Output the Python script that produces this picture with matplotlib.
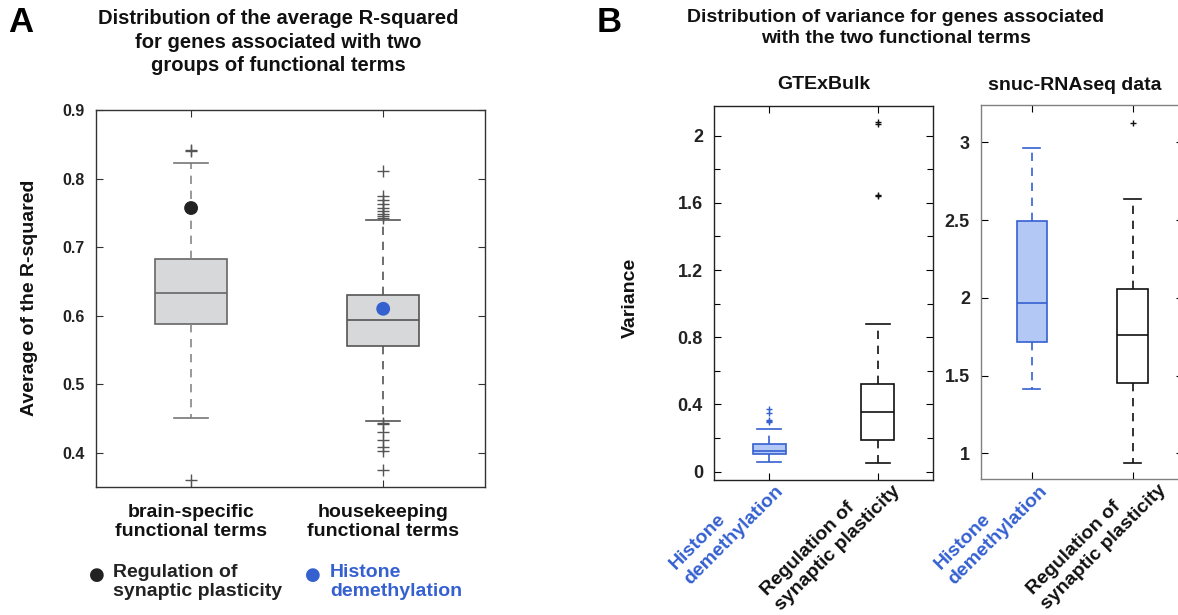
import numpy as np
import matplotlib
matplotlib.use("Agg")
import matplotlib.pyplot as plt
from matplotlib.ticker import MultipleLocator
from matplotlib.transforms import ScaledTranslation

plt.rcParams['font.family'] = ['Liberation Sans', 'DejaVu Sans']
plt.rcParams['font.weight'] = 'bold'

BLUE = '#3560d0'
BLUE_FILL = '#b4c8f6'
DARK = '#222222'

# ---- panel A data (average R-squared) ----
a_labels = ['brain-specific\nfunctional terms', 'housekeeping\nfunctional terms']
a_q1 = [0.588, 0.556]
a_med = [0.633, 0.593]
a_q3 = [0.683, 0.630]
a_lo = [0.451, 0.447]
a_hi = [0.822, 0.739]
a_fliers = [
    [0.842, 0.840, 0.360],
    [0.811, 0.774, 0.768, 0.763, 0.757, 0.752, 0.748, 0.745, 0.742,
     0.444, 0.442, 0.430, 0.419, 0.408, 0.403, 0.375],
]
a_points = [0.757, 0.610]          # highlighted terms
a_point_names = ['Regulation of\nsynaptic plasticity', 'Histone\ndemethylation']

# ---- panel B data (variance) ----
b_labels = ['Histone\ndemethylation', 'Regulation of\nsynaptic plasticity']
gtex_q1 = [0.104, 0.187]
gtex_med = [0.125, 0.357]
gtex_q3 = [0.167, 0.522]
gtex_lo = [0.060, 0.050]
gtex_hi = [0.256, 0.881]
gtex_fliers = [[0.370, 0.350, 0.310, 0.300, 0.295], [2.08, 2.07, 1.65, 1.64]]

snuc_q1 = [1.716, 1.450]
snuc_med = [1.969, 1.759]
snuc_q3 = [2.496, 2.059]
snuc_lo = [1.412, 0.940]
snuc_hi = [2.963, 2.633]
snuc_fliers = [[], [3.126]]


def stats(q1, med, q3, lo, hi, fl):
    return [dict(q1=q1[i], med=med[i], q3=q3[i], whislo=lo[i], whishi=hi[i],
                 fliers=fl[i]) for i in range(len(q1))]


def style_box(res, colors, fills, lw=1.2):
    for i, b in enumerate(res['boxes']):
        b.set_facecolor(fills[i]); b.set_edgecolor(colors[i]); b.set_linewidth(lw)
    for i, m in enumerate(res['medians']):
        m.set_color(colors[i]); m.set_linewidth(lw)
    for i, w in enumerate(res['whiskers']):
        w.set_color(colors[i // 2]); w.set_linestyle((0, (5, 4))); w.set_linewidth(lw)
    for i, c in enumerate(res['caps']):
        c.set_color(colors[i // 2]); c.set_linewidth(lw)


fmt = plt.FuncFormatter(lambda v, p: f'{v:g}')

fig = plt.figure(figsize=(11.78, 6.15), dpi=100)
W, H = 1178, 615


def axes_px(l, t, r, b):
    return fig.add_axes([l / W, 1 - b / H, (r - l) / W, (b - t) / H])


# ---------------- panel A ----------------
ax = axes_px(96, 110, 485, 487)
res = ax.bxp(stats(a_q1, a_med, a_q3, a_lo, a_hi, a_fliers), positions=[1, 2],
             widths=0.375, capwidths=0.18, patch_artist=True,
             flierprops=dict(marker='+', markersize=8, markeredgecolor='#555555',
                             markeredgewidth=1.0, linestyle='none'))
style_box(res, ['#666666', '#555555'], ['#d7d8da', '#d7d8da'])
res['whiskers'][0].set_color('#888888'); res['whiskers'][1].set_color('#888888')
res['caps'][0].set_color('#777777'); res['caps'][1].set_color('#777777')
ax.scatter([1, 2], a_points, s=80, c=[DARK, BLUE], zorder=5)
ax.set_xlim(0.505, 2.53)
ax.set_ylim(0.35, 0.9)
ax.yaxis.set_major_locator(MultipleLocator(0.1))
ax.yaxis.set_major_formatter(fmt)
ax.set_xticks([1, 2])
ax.set_xticklabels(a_labels, fontsize=14, fontweight='bold', color='#111111')
ax.tick_params(direction='in', top=True, right=True, length=5, width=0.8,
               color='#333333')
ax.tick_params(axis='y', labelsize=11.5, labelcolor='#222222', pad=8)
ax.tick_params(axis='x', pad=12)
for s in ax.spines.values():
    s.set_color('#333333'); s.set_linewidth(1.0)

fig.text(30 / W, 1 - 298 / H, 'Average of the R-squared', rotation=90,
         ha='center', va='center', fontsize=14, fontweight='bold', color='#111111')
fig.text(8 / W, 1 - 6 / H, 'A', fontsize=25, fontweight='bold', va='top', ha='left')
fig.text(278 / W, 1 - 9 / H,
         'Distribution of the average R-squared\nfor genes associated with two\ngroups of functional terms',
         ha='center', va='top', fontsize=14.5, fontweight='bold', linespacing=1.3,
         color='#111111')

# legend of highlighted terms
for x_dot, x_txt, col, name in [(97, 113, DARK, a_point_names[0]),
                                (313, 330, BLUE, a_point_names[1])]:
    fig.text(x_dot / W, 1 - 575 / H, '\u25CF', color=col, fontsize=13,
             ha='center', va='center', family=['DejaVu Sans'])
    fig.text(x_txt / W, 1 - 564 / H, name, color=col if col == BLUE else '#222222',
             fontsize=14, fontweight='bold', ha='left', va='top', linespacing=1.15)

# ---------------- panel B ----------------
fig.text(597 / W, 1 - 6 / H, 'B', fontsize=25, fontweight='bold', va='top', ha='left')
fig.text(896 / W, 1 - 9 / H,
         'Distribution of variance for genes associated\nwith the two functional terms',
         ha='center', va='top', fontsize=14, fontweight='bold', linespacing=1.3,
         color='#111111')
fig.text(630 / W, 1 - 298 / H, 'Variance', rotation=90, ha='center', va='center',
         fontsize=14, fontweight='bold', color='#111111')

box_cols = [BLUE, '#111111']
box_fill = [BLUE_FILL, 'white']

ax1 = axes_px(714, 106, 933, 480)
r1 = ax1.bxp(stats(gtex_q1, gtex_med, gtex_q3, gtex_lo, gtex_hi, gtex_fliers),
             positions=[1, 2], widths=0.30, capwidths=0.22, patch_artist=True,
             flierprops=dict(marker='+', markersize=5, linestyle='none'))
style_box(r1, box_cols, box_fill)
for i, f in enumerate(r1['fliers']):
    f.set_markeredgecolor(box_cols[i])
ax1.set_xlim(0.49, 2.51)
ax1.set_ylim(-0.05, 2.177)
ax1.yaxis.set_major_locator(MultipleLocator(0.4))
ax1.yaxis.set_minor_locator(MultipleLocator(0.2))
ax1.yaxis.set_major_formatter(fmt)
ax1.tick_params(axis='y', which='minor', direction='in', right=True, length=4,
                width=0.8)
ax1.set_title('GTExBulk', fontsize=14, fontweight='bold', pad=12, color='#111111')

ax2 = axes_px(981, 105, 1183, 479)
r2 = ax2.bxp(stats(snuc_q1, snuc_med, snuc_q3, snuc_lo, snuc_hi, snuc_fliers),
             positions=[1, 2], widths=0.30, capwidths=0.17, patch_artist=True,
             flierprops=dict(marker='+', markersize=5, linestyle='none'))
style_box(r2, box_cols, box_fill)
for i, f in enumerate(r2['fliers']):
    f.set_markeredgecolor(box_cols[i])
ax2.set_xlim(0.496, 2.5)
ax2.set_ylim(0.835, 3.24)
ax2.yaxis.set_major_locator(MultipleLocator(0.5))
ax2.yaxis.set_major_formatter(fmt)
fig.text(1075 / W, 1 - 86 / H, 'snuc-RNAseq data', ha='center', va='center',
         fontsize=14, fontweight='bold', color='#111111')

# per-label nudges (pixels right, up) to sit like the original rotated labels
nudges = {ax1: [(4, 6), (13, 6)], ax2: [(6, 5), (24, 6)]}
for a, spc in [(ax1, '#222222'), (ax2, '#808080')]:
    a.set_xticks([1, 2])
    a.set_xticklabels(b_labels, rotation=45, ha='right', va='center',
                      rotation_mode='anchor', multialignment='left',
                      fontsize=14, fontweight='bold', linespacing=1.25)
    a.tick_params(direction='in', top=True, right=True, length=5, width=0.8)
    a.tick_params(axis='y', labelsize=13, labelcolor='#222222', pad=8)
    a.tick_params(axis='x', pad=5)
    for s in a.spines.values():
        s.set_color(spc); s.set_linewidth(1.0)
    for lab, col, (dx, dy) in zip(a.get_xticklabels(), [BLUE, '#111111'], nudges[a]):
        lab.set_color(col)
        lab.set_transform(lab.get_transform() +
                          ScaledTranslation(dx / 100, dy / 100, fig.dpi_scale_trans))

fig.savefig('out.png', dpi=100)
